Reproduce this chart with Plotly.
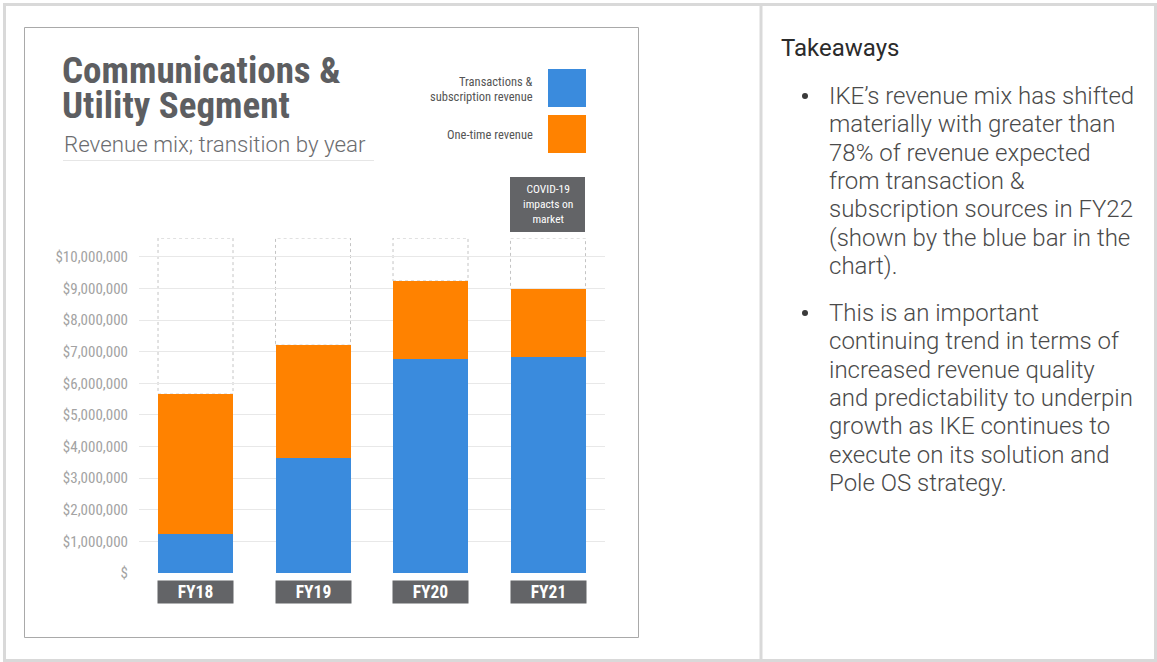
import plotly.graph_objects as go

# ---------------- data ----------------
categories = ["FY18", "FY19", "FY20", "FY21"]
transactions_revenue = [1230000, 3640000, 6760000, 6850000]
one_time_revenue = [4430000, 3570000, 2480000, 2130000]
tick_values = [0, 1000000, 2000000, 3000000, 4000000, 5000000,
               6000000, 7000000, 8000000, 9000000, 10000000]
tick_labels = ["$", "$1,000,000", "$2,000,000", "$3,000,000", "$4,000,000",
               "$5,000,000", "$6,000,000", "$7,000,000", "$8,000,000",
               "$9,000,000", "$10,000,000"]
title_lines = ["Communications &", "Utility Segment"]
subtitle = "Revenue mix; transition by year"
legend_labels = [["Transactions &", "subscription revenue"], ["One-time revenue"]]
covid_lines = ["COVID-19", "impacts on", "market"]
takeaway_title = "Takeaways"
bullet1 = ["IKE\u2019s revenue mix has shifted", "materially with greater than",
           "78% of revenue expected", "from transaction &",
           "subscription sources in FY22", "(shown by the blue bar in the",
           "chart)."]
bullet2 = ["This is an important", "continuing trend in terms of",
           "increased revenue quality", "and predictability to underpin",
           "growth as IKE continues to", "execute on its solution and",
           "Pole OS strategy."]

W, H = 1157, 662
BLUE = "#3a8bdd"
ORANGE = "#ff8200"
DARK = "#636467"
NARROW = "Roboto Condensed, Roboto, Arial"


def X(px):
    return px / W


def Y(py):
    return 1 - py / H


Y_TOP = 10600000
BAR_W = 0.638

fig = go.Figure()
fig.add_trace(go.Bar(x=categories, y=transactions_revenue, name="Transactions & subscription revenue",
                     marker=dict(color=BLUE, line=dict(width=0)), width=BAR_W))
fig.add_trace(go.Bar(x=categories, y=one_time_revenue, name="One-time revenue",
                     marker=dict(color=ORANGE, line=dict(width=0)), width=BAR_W))

shapes = []
annotations = []

# dotted boxes above bars
for i, c in enumerate(categories):
    total = transactions_revenue[i] + one_time_revenue[i]
    shapes.append(dict(type="rect", xref="x", yref="y", x0=i - BAR_W / 2, x1=i + BAR_W / 2,
                       y0=total, y1=Y_TOP, line=dict(color="#c4c4c4", width=1, dash="dot"),
                       layer="below"))
    annotations.append(dict(xref="x", yref="paper", x=c, y=Y(592), text="<b>%s</b>" % c,
                            showarrow=False, xanchor="center", yanchor="middle",
                            bgcolor=DARK, width=75, height=22, borderpad=0,
                            font=dict(family=NARROW, size=17.5, color="white")))

# page borders
shapes.append(dict(type="rect", xref="paper", yref="paper", x0=X(4.5), x1=X(1155.5), y0=Y(4.5), y1=Y(660.5),
                   line=dict(color="#d9d9d9", width=3), layer="above"))
shapes.append(dict(type="line", xref="paper", yref="paper", x0=X(761), x1=X(761), y0=Y(4.5), y1=Y(660.5),
                   line=dict(color="#d9d9d9", width=3)))
# chart frame
shapes.append(dict(type="rect", xref="paper", yref="paper", x0=X(24.5), x1=X(638.5), y0=Y(27.5), y1=Y(637.5),
                   line=dict(color="#a9a9a9", width=1)))
# subtitle underline
shapes.append(dict(type="line", xref="paper", yref="paper", x0=X(63), x1=X(374), y0=Y(160.5), y1=Y(160.5),
                   line=dict(color="#e6e6e6", width=1)))
# legend squares
shapes.append(dict(type="rect", xref="paper", yref="paper", x0=X(548), x1=X(586), y0=Y(69), y1=Y(107),
                   fillcolor=BLUE, line=dict(width=0)))
shapes.append(dict(type="rect", xref="paper", yref="paper", x0=X(548), x1=X(586), y0=Y(115), y1=Y(153),
                   fillcolor=ORANGE, line=dict(width=0)))
# covid box
shapes.append(dict(type="rect", xref="paper", yref="paper", x0=X(510), x1=X(585), y0=Y(177), y1=Y(232),
                   fillcolor=DARK, line=dict(width=0)))
# bullets
for by in (96, 313):
    shapes.append(dict(type="circle", xref="paper", yref="paper", x0=X(802), x1=X(808),
                       y0=Y(by - 3), y1=Y(by + 3), fillcolor="#3a3a3a", line=dict(width=0)))

# titles
for txt, yc in zip(title_lines, (71, 105)):
    annotations.append(dict(xref="paper", yref="paper", x=X(60), y=Y(yc), text="<b>%s</b>" % txt,
                            showarrow=False, xanchor="left", yanchor="middle",
                            font=dict(family=NARROW, size=37, color="#5d5e61")))
annotations.append(dict(xref="paper", yref="paper", x=X(62), y=Y(144), text=subtitle,
                        showarrow=False, xanchor="left", yanchor="middle",
                        font=dict(family="Roboto", size=22.3, color="#6b6c6f", weight=300)))
# legend labels
for txt, yc in zip(legend_labels[0] + legend_labels[1], (82, 96, 134)):
    annotations.append(dict(xref="paper", yref="paper", x=X(535), y=Y(yc), text=txt,
                            showarrow=False, xanchor="right", yanchor="middle",
                            font=dict(family=NARROW, size=12.5, color="#555555")))
annotations.append(dict(xref="paper", yref="paper", x=X(547.5), y=Y(203.5), text="<br>".join(covid_lines),
                        showarrow=False, xanchor="center", yanchor="middle", align="center",
                        font=dict(family=NARROW, size=11.5, color="white")))

# right panel
annotations.append(dict(xref="paper", yref="paper", x=X(779), y=Y(48), text=takeaway_title,
                        showarrow=False, xanchor="left", yanchor="middle",
                        font=dict(family="Roboto", size=24, color="#2b2b2b")))
for lines, y0 in ((bullet1, 96), (bullet2, 313)):
    for k, txt in enumerate(lines):
        annotations.append(dict(xref="paper", yref="paper", x=X(827), y=Y(y0 + k * 28.35), text=txt,
                                showarrow=False, xanchor="left", yanchor="middle",
                                font=dict(family="Roboto", size=24, color="#4a4a4a", weight=300)))

fig.update_layout(
    width=W, height=H, autosize=False,
    margin=dict(l=0, r=0, t=0, b=0, pad=0, autoexpand=False),
    paper_bgcolor="white", plot_bgcolor="white",
    barmode="stack", bargap=0, showlegend=False,
    xaxis=dict(domain=[X(139), X(605)], range=[-0.481, 3.485], showticklabels=False,
               showgrid=False, zeroline=False, showline=False, fixedrange=True, automargin=False),
    yaxis=dict(domain=[Y(573), Y(238)], range=[0, Y_TOP], tickvals=tick_values, ticktext=tick_labels,
               showgrid=True, gridcolor="#e8e8e8", gridwidth=1, zeroline=False, showline=False,
               ticks="", ticklabelstandoff=10, automargin=False,
               tickfont=dict(family=NARROW, size=15, color="#a3a3a3"), fixedrange=True),
    shapes=shapes, annotations=annotations,
)

fig.write_html("out.html", config={"displayModeBar": False},
               post_script="document.body.style.margin='0';document.body.style.overflow='hidden';")
